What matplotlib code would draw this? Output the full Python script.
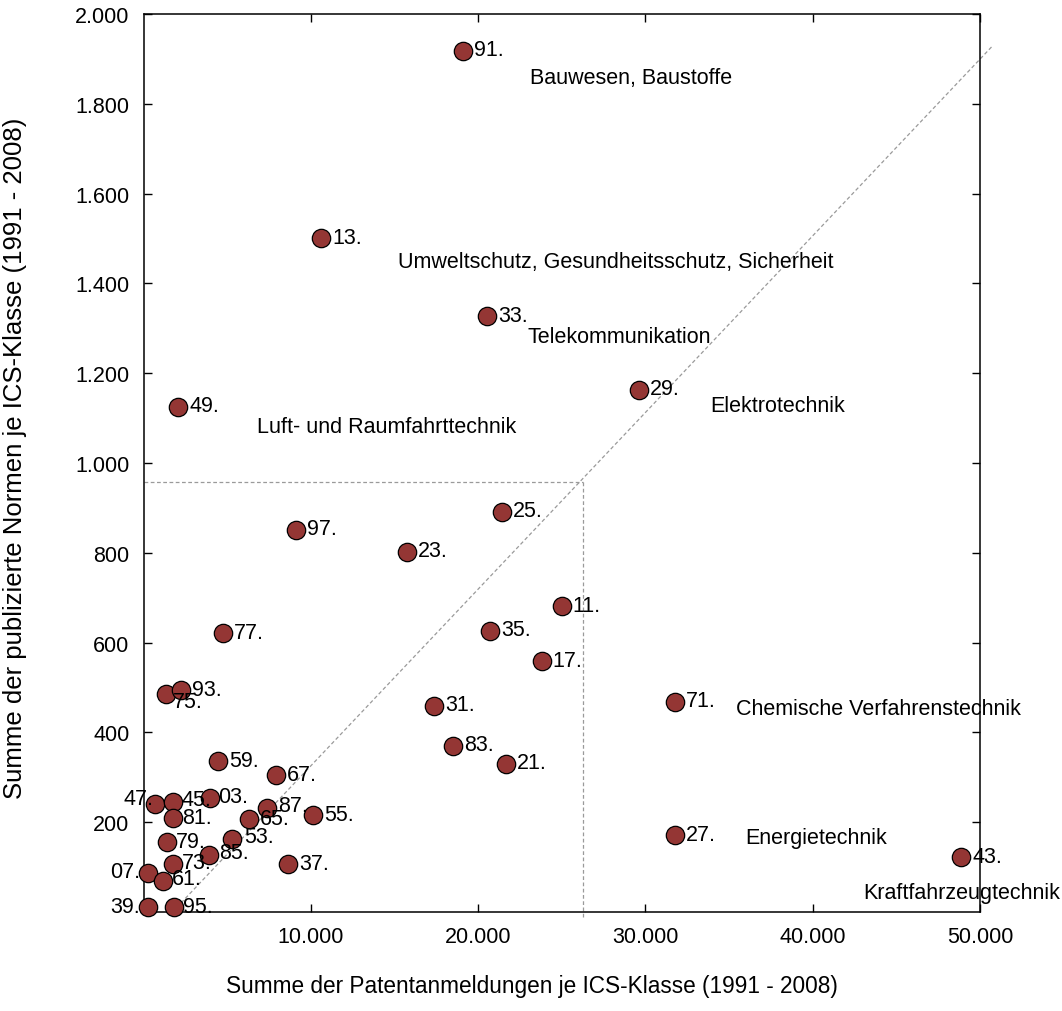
import matplotlib
matplotlib.use("Agg")
import matplotlib.pyplot as plt

plt.rcParams['font.family'] = ['Liberation Sans', 'DejaVu Sans']

# ICS classes
codes = ["91", "13", "33", "29", "49", "25", "97", "23", "11", "77", "35", "17",
         "75", "93", "71", "31", "83", "21", "59", "67", "27", "43",
         "47", "45", "03", "81", "87", "65", "55", "79", "53", "85", "73",
         "37", "07", "61", "39", "95"]
# Patent applications per ICS class (1991-2008)
patents = [19090, 10615, 20530, 29600, 2080, 21420, 9120, 15750, 25000, 4770, 20700, 23810,
           1360, 2260, 31750, 17360, 18490, 21660, 4470, 7930, 31750, 48890,
           710, 1770, 3990, 1770, 7370, 6280, 10160, 1400, 5280, 3890, 1770,
           8660, 280, 1160, 280, 1840]
# Published standards per ICS class (1991-2008)
norms = [1918, 1501, 1327, 1163, 1125, 891, 851, 802, 681, 621, 626, 559,
         486, 494, 468, 459, 370, 330, 336, 305, 171, 122,
         240, 246, 255, 210, 232, 207, 216, 157, 163, 128, 106,
         106, 86, 70, 12, 12]

# Category names for selected classes
category_names = {
    "91": "Bauwesen, Baustoffe",
    "13": "Umweltschutz, Gesundheitsschutz, Sicherheit",
    "33": "Telekommunikation",
    "29": "Elektrotechnik",
    "49": "Luft- und Raumfahrttechnik",
    "71": "Chemische Verfahrenstechnik",
    "27": "Energietechnik",
    "43": "Kraftfahrzeugtechnik",
}

# Reference lines
ref_line_x = [1730, 50750]
ref_line_y = [0, 1929]
corner_x = 26270
corner_y = 957

x_ticks = [10000, 20000, 30000, 40000, 50000]
x_ticklabels = ["10.000", "20.000", "30.000", "40.000", "50.000"]
y_ticks = [200, 400, 600, 800, 1000, 1200, 1400, 1600, 1800, 2000]
y_ticklabels = ["200", "400", "600", "800", "1.000", "1.200", "1.400", "1.600", "1.800", "2.000"]

# label offsets in pixels (style)
num_offsets = {
    "47": (-2, 6, "right"), "07": (-8, 2, "right"), "39": (-8, 0, "right"),
    "75": (7, -8, "left"), "45": (8, 2, "left"), "03": (8, 1, "left"),
    "81": (9, 0, "left"), "79": (9, 0, "left"), "73": (9, 2, "left"),
    "61": (9, 2, "left"), "95": (9, 0, "left"), "87": (11, 2, "left"),
    "85": (11, 2, "left"), "53": (12, 2, "left"),
}
cat_offsets = {
    "91": (67, -27), "13": (77, -23), "33": (41, -20), "29": (72, -16),
    "49": (79, -20), "71": (61, -7), "27": (71, -2), "43": (-98, -35),
}

FS = 15.5

fig = plt.figure(figsize=(10.62, 10.12), dpi=100)
ax = fig.add_axes([143.5/1062, 1-913/1012, (980-143.5)/1062, (913-15)/1012])

gray = "#9a9a9a"
ax.plot(ref_line_x, ref_line_y, ls=(0, (3, 2)), color=gray, lw=0.9, clip_on=False, zorder=1)
ax.plot([0, corner_x], [corner_y, corner_y], ls=(0, (3, 2)), color=gray, lw=0.9, zorder=1)
ax.plot([corner_x, corner_x], [-12, corner_y], ls=(0, (3, 2)), color=gray, lw=0.9, clip_on=False, zorder=1)

ax.scatter(patents, norms, s=175, color="#943634", edgecolor="black", linewidth=0.9,
           zorder=3, clip_on=False)

for c, x, y in zip(codes, patents, norms):
    dx, dy, ha = num_offsets.get(c, (11, 1, "left"))
    ax.annotate(c + ".", (x, y), xytext=(dx, dy), textcoords="offset pixels",
                ha=ha, va="center", fontsize=FS, zorder=4, annotation_clip=False)
    if c in category_names:
        cx, cy = cat_offsets[c]
        ax.annotate(category_names[c], (x, y), xytext=(cx, cy), textcoords="offset pixels",
                    ha="left", va="center", fontsize=FS, zorder=4, annotation_clip=False)

ax.set_xlim(0, 50000)
ax.set_ylim(0, 2000)
ax.set_xticks(x_ticks)
ax.set_xticklabels(x_ticklabels)
ax.set_yticks(y_ticks)
ax.set_yticklabels(y_ticklabels)
ax.tick_params(direction="in", length=6, width=1, top=True, right=True,
               labelsize=FS, pad=10)
for s in ax.spines.values():
    s.set_linewidth(1.1)

ax.set_xlabel("Summe der Patentanmeldungen je ICS-Klasse (1991 - 2008)", fontsize=16.3)
ax.xaxis.set_label_coords((532-143.5)/836.5, -(975-913)/898)
ax.set_ylabel("Summe der publizierte Normen je ICS-Klasse (1991 - 2008)", fontsize=18.5)
ax.yaxis.set_label_coords(-(143.5-27)/836.5, (913-458)/898)

fig.savefig("out.png", dpi=100)
